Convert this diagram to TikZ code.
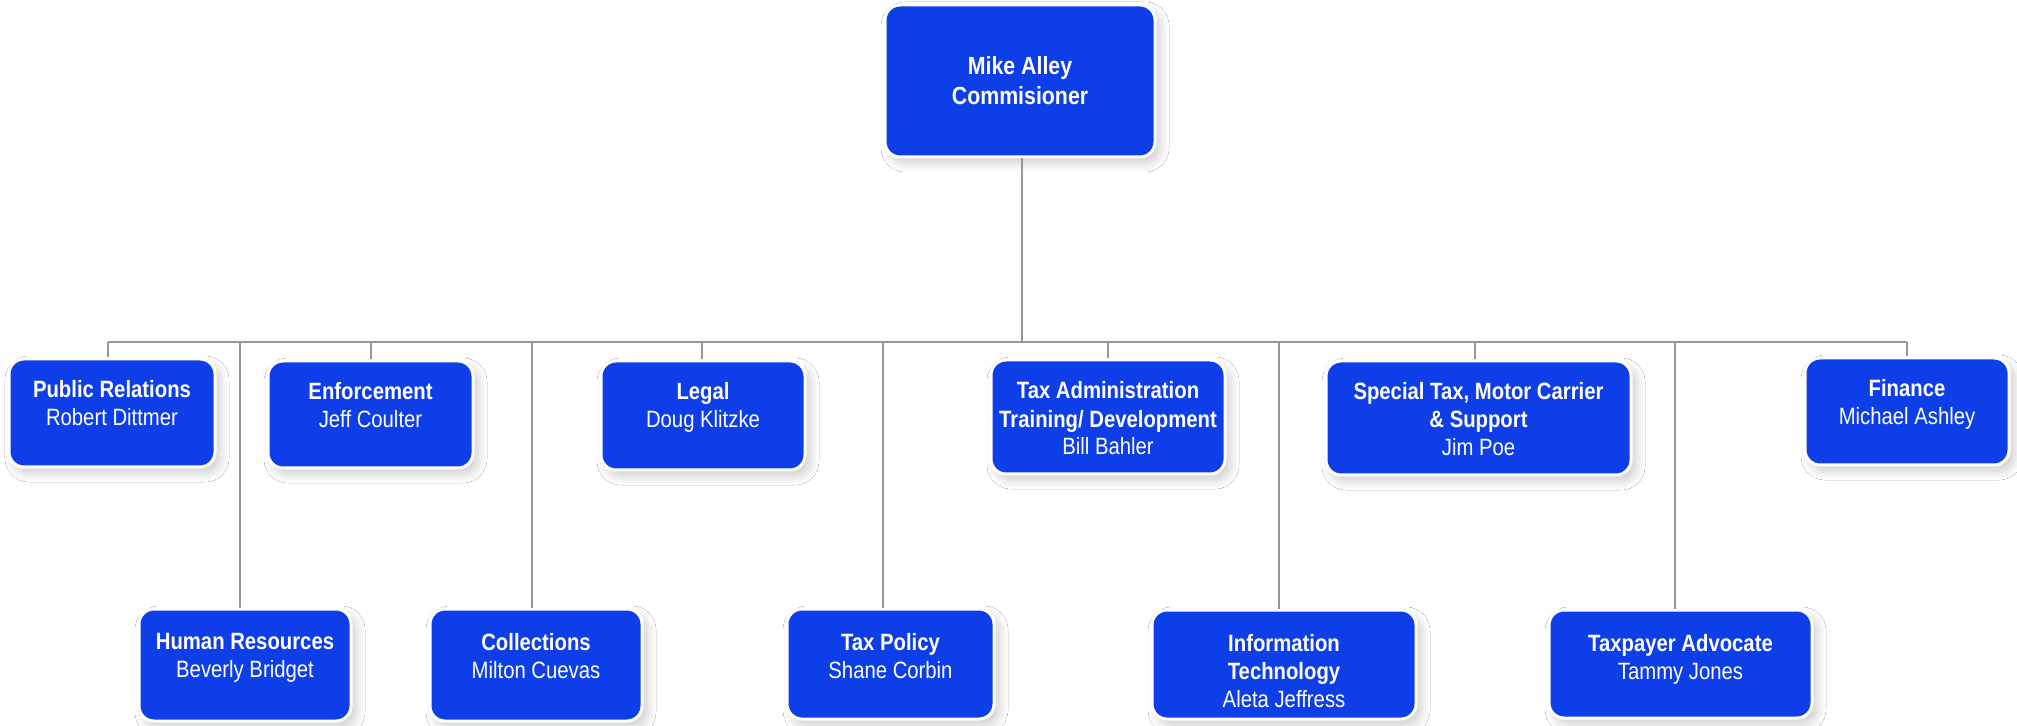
\documentclass[tikz,border=0pt]{standalone}
\usepackage{fontspec}
\setmainfont{Liberation Sans}[FakeStretch=0.86]
\usetikzlibrary{shadows.blur}
\definecolor{boxblue}{RGB}{14,62,232}
\definecolor{linegray}{RGB}{150,150,150}
\tikzset{
  box/.style={draw=white, line width=1.5pt, fill=boxblue, rounded corners=7.5pt, inner sep=0pt,
    blur shadow={shadow xshift=2.5pt, shadow yshift=-3pt, shadow opacity=20, shadow blur radius=4.5pt, shadow blur steps=10}},
  txt/.style={text=white, align=center, inner sep=0pt, anchor=north, font=\fontsize{11.8}{14}\selectfont},
  conn/.style={draw=linegray, line width=1pt}
}
\begin{document}
\begin{tikzpicture}[x=0.5pt,y=-0.5pt]
\useasboundingbox[fill=white] (0,0) rectangle (2017,726);
% boxes
\node[box, minimum width=135pt, minimum height=76pt] (top) at (1020,81) {};
\node[box, minimum width=103pt, minimum height=54pt] (pr) at (112,413) {};
\node[box, minimum width=102.5pt, minimum height=53.5pt] (enf) at (370.5,414.5) {};
\node[box, minimum width=102pt, minimum height=54.5pt] (legal) at (703,415.5) {};
\node[box, minimum width=117pt, minimum height=57pt] (taxadm) at (1108,417) {};
\node[box, minimum width=152.5pt, minimum height=57pt] (spec) at (1478.5,418) {};
\node[box, minimum width=102pt, minimum height=53.5pt] (fin) at (1907,411.5) {};
\node[box, minimum width=106pt, minimum height=56pt] (hr) at (245,665) {};
\node[box, minimum width=106pt, minimum height=56pt] (coll) at (536,665) {};
\node[box, minimum width=103.5pt, minimum height=55pt] (taxpol) at (890.5,664) {};
\node[box, minimum width=132pt, minimum height=54.5pt] (it) at (1284,664.5) {};
\node[box, minimum width=131.5pt, minimum height=54pt] (adv) at (1680.5,664) {};
% texts
\node[txt, anchor=center, font=\bfseries\fontsize{12.4}{15}\selectfont] (topT) at (top) {Mike Alley\\Commisioner};
\node[txt] (prT) at ([yshift=-11.5pt]pr.north) {\textbf{Public Relations}\\Robert Dittmer};
\node[txt] (enfT) at ([yshift=-11.5pt]enf.north) {\textbf{Enforcement}\\Jeff Coulter};
\node[txt] (legalT) at ([yshift=-11.5pt]legal.north) {\textbf{Legal}\\Doug Klitzke};
\node[txt] (taxadmT) at ([yshift=-11.5pt]taxadm.north) {\textbf{Tax Administration}\\\textbf{Training/ Development}\\Bill Bahler};
\node[txt] (specT) at ([yshift=-11.5pt]spec.north) {\textbf{Special Tax, Motor Carrier}\\\textbf{\& Support}\\Jim Poe};
\node[txt] (finT) at ([yshift=-11.5pt]fin.north) {\textbf{Finance}\\Michael Ashley};
\node[txt] (hrT) at ([yshift=-12.5pt]hr.north) {\textbf{Human Resources}\\Beverly Bridget};
\node[txt] (collT) at ([yshift=-12.5pt]coll.north) {\textbf{Collections}\\Milton Cuevas};
\node[txt] (taxpolT) at ([yshift=-12.5pt]taxpol.north) {\textbf{Tax Policy}\\Shane Corbin};
\node[txt] (itT) at ([yshift=-12.5pt]it.north) {\textbf{Information}\\\textbf{Technology}\\Aleta Jeffress};
\node[txt] (advT) at ([yshift=-12.5pt]adv.north) {\textbf{Taxpayer Advocate}\\Tammy Jones};
% connectors
\coordinate (bus) at (1022,342);
\draw[conn] ([xshift=1pt]top.south) -- ([xshift=1pt]top.south |- bus);
\draw[conn] ([xshift=-2pt]pr.north |- bus) -- (fin.north |- bus);
\foreach \n/\d in {pr/-2,enf/0,legal/-0.5,taxadm/0,spec/-1.75,fin/0,hr/-2.5,coll/-2,taxpol/-3.75,it/-2.5,adv/-2.75}
  \draw[conn] ([xshift=\d pt]\n.north) -- ([xshift=\d pt]\n.north |- bus);
\end{tikzpicture}
\end{document}
